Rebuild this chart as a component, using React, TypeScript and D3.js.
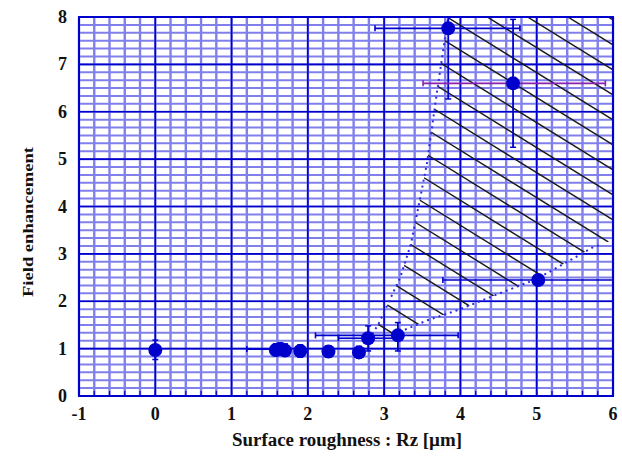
import React from "react";
import * as d3 from "d3";

// Measured samples: surface roughness Rz [µm] vs field enhancement factor
const roughness = [0, 1.58, 1.64, 1.7, 1.9, 2.27, 2.67, 2.79, 3.18, 3.84, 4.69, 5.02];
const enhancement = [0.97, 0.97, 0.99, 0.96, 0.95, 0.94, 0.92, 1.22, 1.28, 7.76, 6.6, 2.45];
// error bar extents (null = no bar on that side)
const xErrLow: (number | null)[] = [null, null, 1.2, null, null, null, null, 2.4, 2.1, 2.88, 3.51, 3.77];
const xErrHigh: (number | null)[] = [null, null, null, null, null, null, null, 3.2, 3.97, 4.78, 5.9, 6.0];
const yErrLow = [0.77, 0.85, 0.86, 0.84, 0.82, 0.82, 0.8, 0.95, 0.95, 6.27, 5.25, 2.35];
const yErrHigh = [1.18, 1.1, 1.12, 1.1, 1.08, 1.06, 1.05, 1.48, 1.55, 8.2, 7.95, 2.55];
const purpleBar = [false, false, false, false, false, false, false, false, false, false, true, false];

// Bounds of the hatched enhancement envelope
const upperEdgeX = [2.8, 2.92, 3.21, 3.35, 3.45, 3.56, 3.7, 3.84];
const upperEdgeY = [1.2, 1.5, 2.5, 3.2, 4.0, 4.9, 6.5, 8.0];
const lowerEdgeX = [3.2, 3.57, 3.96, 4.52, 5.0, 5.74, 5.85];
const lowerEdgeY = [1.35, 1.6, 1.81, 2.17, 2.47, 3.14, 3.2];

const xTicks = [-1, 0, 1, 2, 3, 4, 5, 6];
const yTicks = [0, 1, 2, 3, 4, 5, 6, 7, 8];

const W = 622;
const H = 456;
const left = 79, right = 613, top = 17, bottom = 396;

const MAJOR = "#0000cc";
const MINOR = "#8080ec";
const FONT = "'Liberation Serif', 'DejaVu Serif', serif";

export default function App() {
  const x = d3.scaleLinear().domain([-1, 6]).range([left, right]);
  const y = d3.scaleLinear().domain([0, 8]).range([bottom, top]);

  const minorX = d3.range(-1, 6.0001, 0.2);
  const minorY = d3.range(0, 8.0001, 1 / 6);

  // envelope polygon: tip, upper edge, top-right corner, right side, lower edge back
  const envPts: [number, number][] = [
    [2.6, 0.95],
    ...upperEdgeX.map((v, i) => [v, upperEdgeY[i]] as [number, number]),
    [6, 8],
    [6, 3.3],
    ...lowerEdgeX.map((v, i) => [v, lowerEdgeY[i]] as [number, number]).reverse(),
    [2.9, 1.15],
  ];
  const lineGen = d3.line<[number, number]>().x((d) => x(d[0])).y((d) => y(d[1]));
  const envPath = lineGen(envPts) + "Z";
  const upperPath = lineGen(upperEdgeX.map((v, i) => [v, upperEdgeY[i]]));
  const lowerPath = lineGen(lowerEdgeX.map((v, i) => [v, lowerEdgeY[i]]));

  // hatch: parallel lines descending to the right
  const slope = 0.62;
  const c0 = top - slope * 447;
  const hatch = d3.range(-12, 30).map((k) => {
    const c = c0 + k * 25;
    return { x1: left, y1: slope * left + c, x2: right, y2: slope * right + c };
  });

  return (
    <svg
      width={W}
      height={H}
      viewBox={`0 0 ${W} ${H}`}
      style={{ position: "absolute", left: 0, top: 0, background: "#fff" }}
    >
      <defs>
        <clipPath id="env">
          <path d={envPath} />
        </clipPath>
        <clipPath id="plot">
          <rect x={left} y={top} width={right - left} height={bottom - top} />
        </clipPath>
      </defs>

      {/* minor grid */}
      <g stroke={MINOR}>
        {minorY.map((v, i) => (
          <line key={"my" + i} x1={left} x2={right} y1={y(v)} y2={y(v)} strokeWidth={2} />
        ))}
        {minorX.map((v, i) => (
          <line key={"mx" + i} x1={x(v)} x2={x(v)} y1={top} y2={bottom} strokeWidth={2.4} />
        ))}
      </g>

      {/* major grid */}
      <g stroke={MAJOR} strokeWidth={1.6}>
        {yTicks.map((v) => (
          <line key={"gy" + v} x1={left} x2={right} y1={y(v)} y2={y(v)} />
        ))}
        {xTicks.map((v) => (
          <line key={"gx" + v} x1={x(v)} x2={x(v)} y1={top} y2={bottom} />
        ))}
      </g>

      {/* bottom minor ticks */}
      <g stroke={MAJOR} strokeWidth={1.2}>
        {minorX.map((v, i) => (
          <line key={"bt" + i} x1={x(v)} x2={x(v)} y1={bottom} y2={bottom - 5} />
        ))}
      </g>

      {/* hatched envelope */}
      <g clipPath="url(#plot)">
        <g clipPath="url(#env)" stroke="#1a1a1a" strokeWidth={1.4}>
          {hatch.map((h, i) => (
            <line key={"h" + i} x1={h.x1} y1={h.y1} x2={h.x2} y2={h.y2} />
          ))}
        </g>
        <path d={upperPath || ""} fill="none" stroke="#2a2ae0" strokeWidth={2} strokeDasharray="2 4" />
        <path d={lowerPath || ""} fill="none" stroke="#2a2ae0" strokeWidth={2} strokeDasharray="2 4" />
      </g>

      {/* error bars and points */}
      <g clipPath="url(#plot)">
        {roughness.map((rx, i) => {
          const px = x(rx);
          const py = y(enhancement[i]);
          const lo = xErrLow[i];
          const hi = xErrHigh[i];
          const col = purpleBar[i] ? "#8a1fb0" : MAJOR;
          return (
            <g key={"p" + i}>
              <line x1={px} x2={px} y1={y(yErrLow[i])} y2={y(yErrHigh[i])} stroke={MAJOR} strokeWidth={1.8} />
              <line x1={px - 3} x2={px + 3} y1={y(yErrLow[i])} y2={y(yErrLow[i])} stroke={MAJOR} strokeWidth={1.5} />
              <line x1={px - 3} x2={px + 3} y1={y(yErrHigh[i])} y2={y(yErrHigh[i])} stroke={MAJOR} strokeWidth={1.5} />
              {lo !== null && (
                <g stroke={col} strokeWidth={1.6}>
                  <line x1={x(lo)} x2={px} y1={py} y2={py} />
                  <line x1={x(lo)} x2={x(lo)} y1={py - 3} y2={py + 3} />
                </g>
              )}
              {hi !== null && (
                <g stroke={col} strokeWidth={1.6}>
                  <line x1={px} x2={x(hi)} y1={py} y2={py} />
                  <line x1={x(hi)} x2={x(hi)} y1={py - 3} y2={py + 3} />
                </g>
              )}
              <circle cx={px} cy={py} r={7} fill={MAJOR} />
            </g>
          );
        })}
      </g>

      {/* frame */}
      <rect x={left} y={top} width={right - left} height={bottom - top} fill="none" stroke={MAJOR} strokeWidth={2} />

      {/* tick labels */}
      <g fontFamily={FONT} fontWeight="bold" fontSize={18} fill="#111">
        {xTicks.map((v) => (
          <text key={"tx" + v} x={x(v)} y={420} textAnchor="middle">
            {v < 0 ? "-" + Math.abs(v) : v}
          </text>
        ))}
        {yTicks.map((v) => (
          <text key={"ty" + v} x={67} y={y(v) + 6} textAnchor="end">
            {v}
          </text>
        ))}
      </g>

      {/* axis titles */}
      <text
        x={347}
        y={446}
        textAnchor="middle"
        fontFamily={FONT}
        fontWeight="bold"
        fontSize={18}
        fill="#111"
        textLength={230}
        lengthAdjust="spacingAndGlyphs"
      >
        Surface roughness : Rz [µm]
      </text>
      <text
        transform="translate(33,222) rotate(-90)"
        textAnchor="middle"
        fontFamily={FONT}
        fontWeight="bold"
        fontSize={14}
        fill="#111"
        textLength={150}
        lengthAdjust="spacingAndGlyphs"
      >
        Field enhancement
      </text>
    </svg>
  );
}
